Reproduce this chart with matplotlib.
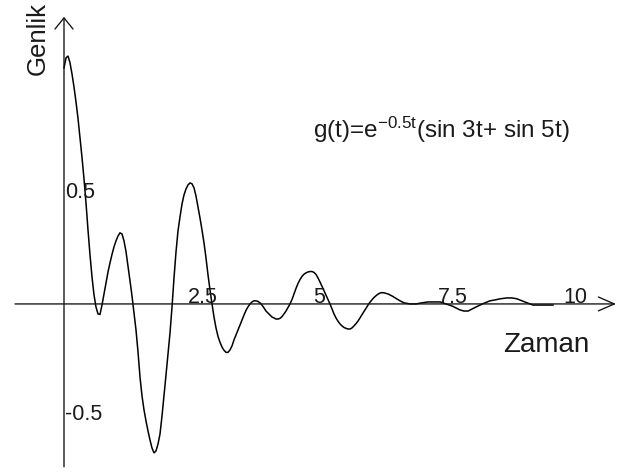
import matplotlib
matplotlib.use("Agg")
import matplotlib.pyplot as plt

plt.rcParams['font.family'] = ['Liberation Sans', 'DejaVu Sans']
plt.rcParams['mathtext.fontset'] = 'custom'
plt.rcParams['mathtext.rm'] = 'Liberation Sans'
plt.rcParams['mathtext.it'] = 'Liberation Sans:italic'
plt.rcParams['mathtext.bf'] = 'Liberation Sans:bold'

# --- data (t = Zaman, g = Genlik) ---
t = [0.00, 0.04, 0.08, 0.12, 0.16, 0.20, 0.24, 0.28, 0.32, 0.36,
     0.40, 0.44, 0.48, 0.52, 0.56, 0.60, 0.64, 0.68, 0.72, 0.76,
     0.80, 0.84, 0.88, 0.92, 0.96, 1.00, 1.04, 1.08, 1.12, 1.16,
     1.20, 1.24, 1.28, 1.32, 1.36, 1.40, 1.44, 1.48, 1.52, 1.56,
     1.60, 1.64, 1.68, 1.72, 1.76, 1.80, 1.84, 1.88, 1.92, 1.96,
     2.00, 2.04, 2.08, 2.12, 2.16, 2.20, 2.24, 2.28, 2.32, 2.36,
     2.40, 2.44, 2.48, 2.52, 2.56, 2.60, 2.64, 2.68, 2.72, 2.76,
     2.80, 2.84, 2.88, 2.92, 2.96, 3.00, 3.04, 3.08, 3.12, 3.16,
     3.20, 3.24, 3.28, 3.32, 3.36, 3.40, 3.44, 3.48, 3.52, 3.56,
     3.60, 3.64, 3.68, 3.72, 3.76, 3.80, 3.84, 3.88, 3.92, 3.96,
     4.00, 4.04, 4.08, 4.12, 4.16, 4.20, 4.24, 4.28, 4.32, 4.36,
     4.40, 4.44, 4.48, 4.52, 4.56, 4.60, 4.64, 4.68, 4.72, 4.76,
     4.80, 4.84, 4.88, 4.92, 4.96, 5.00, 5.04, 5.08, 5.12, 5.16,
     5.20, 5.24, 5.28, 5.32, 5.36, 5.40, 5.44, 5.48, 5.52, 5.56,
     5.60, 5.64, 5.68, 5.72, 5.76, 5.80, 5.84, 5.88, 5.92, 5.96,
     6.00, 6.04, 6.08, 6.12, 6.16, 6.20, 6.24, 6.28, 6.32, 6.36,
     6.40,
     6.48, 6.56, 6.64, 6.72, 6.80, 6.92, 7.04, 7.16, 7.28, 7.40,
     7.52, 7.64, 7.76, 7.84, 7.92, 8.00, 8.08, 8.16, 8.24, 8.32,
     8.42, 8.52, 8.62, 8.72, 8.86, 8.96, 9.06, 9.16, 9.26, 9.38,
     9.52, 9.66, 9.78]

g = [1.063, 1.108, 1.117, 1.086, 1.036, 0.977, 0.910, 0.836, 0.750, 0.660,
     0.563, 0.455, 0.333, 0.221, 0.122, 0.041, -0.014, -0.045, -0.047, -0.005,
     0.045, 0.095, 0.144, 0.185, 0.223, 0.257, 0.284, 0.306, 0.320, 0.315,
     0.284, 0.236, 0.171, 0.104, 0.036, -0.041, -0.117, -0.216, -0.329, -0.414,
     -0.477, -0.527, -0.572, -0.613, -0.649, -0.671, -0.662, -0.631, -0.586, -0.505,
     -0.414, -0.320, -0.225, -0.131, -0.014, 0.117, 0.234, 0.329, 0.392, 0.450,
     0.491, 0.518, 0.536, 0.545, 0.541, 0.523, 0.486, 0.437, 0.387, 0.333,
     0.275, 0.207, 0.131, 0.063, 0.000, -0.059, -0.108, -0.146, -0.173, -0.194,
     -0.209, -0.218, -0.218, -0.207, -0.189, -0.162, -0.140, -0.117, -0.095, -0.072,
     -0.050, -0.029, -0.013, 0.000, 0.009, 0.014, 0.014, 0.011, 0.005, -0.005,
     -0.018, -0.032, -0.041, -0.050, -0.059, -0.063, -0.068, -0.068, -0.065, -0.057,
     -0.045, -0.032, -0.016, 0.000, 0.020, 0.045, 0.070, 0.092, 0.110, 0.124,
     0.134, 0.140, 0.144, 0.146, 0.146, 0.142, 0.133, 0.117, 0.099, 0.079,
     0.059, 0.039, 0.019, 0.000, -0.023, -0.045, -0.063, -0.078, -0.090, -0.099,
     -0.106, -0.110, -0.113, -0.113, -0.108, -0.099, -0.089, -0.077, -0.063, -0.048,
     -0.034, -0.020, -0.005, 0.008, 0.019, 0.029, 0.037, 0.044, 0.049, 0.051,
     0.050,
     0.045, 0.036, 0.025, 0.014, 0.005, 0.000, 0.000, 0.005, 0.009, 0.009,
     0.009, 0.000, -0.009, -0.018, -0.027, -0.032, -0.032, -0.023, -0.014, -0.005,
     0.005, 0.014, 0.018, 0.023, 0.027, 0.027, 0.023, 0.014, 0.005, -0.005,
     -0.005, -0.005, -0.005]

x_ticks = [2.5, 5, 7.5, 10]
x_tick_labels = ["2.5", "5", "7.5", "10"]
y_ticks = [0.5, -0.5]
y_tick_labels = ["0.5", "-0.5"]

x_label = "Zaman"
y_label = "Genlik"
formula = r"g(t)=e$^{\mathrm{-0.5t}}$(sin 3t+ sin 5t)"

# --- figure ---
fig = plt.figure(figsize=(6.34, 4.72), dpi=100)
ax = fig.add_axes([0, 0, 1, 1])
ax.set_xlim(-1.28, 11.4)
ax.set_ylim(-0.757, 1.369)
ax.axis('off')

ink = '#111111'
txt = '#1a1a1a'

# axes with open arrow heads
ax.annotate('', xy=(11.04, 0), xytext=(-0.98, 0),
            arrowprops=dict(arrowstyle='->,head_length=1.15,head_width=0.5',
                            lw=0.95, color=ink, shrinkA=0, shrinkB=0))
ax.annotate('', xy=(0, 1.293), xytext=(0, -0.734),
            arrowprops=dict(arrowstyle='->,head_length=0.8,head_width=0.65',
                            lw=0.95, color=ink, shrinkA=0, shrinkB=0))

# curve
ax.plot(t, g, color='black', lw=1.1, solid_joinstyle='miter')

# tick labels
for xv, lab in zip(x_ticks, x_tick_labels):
    ax.text(xv - 0.02, 0.006, lab, ha='left', va='baseline', fontsize=15.5, color=txt)
for yv, lab in zip(y_ticks, y_tick_labels):
    ax.text(0.03, yv, lab, ha='left', va='center', fontsize=15.5, color=txt)

# axis titles
ax.text(8.78, -0.216, x_label, ha='left', va='baseline', fontsize=20, color=txt)
ax.text(-0.52, 1.03, y_label, ha='center', va='bottom', rotation=90,
        fontsize=18.5, color=txt)

# formula
ax.text(4.98, 0.748, formula, ha='left', va='baseline', fontsize=17.5, color=txt)

fig.savefig('out.png', dpi=100)
